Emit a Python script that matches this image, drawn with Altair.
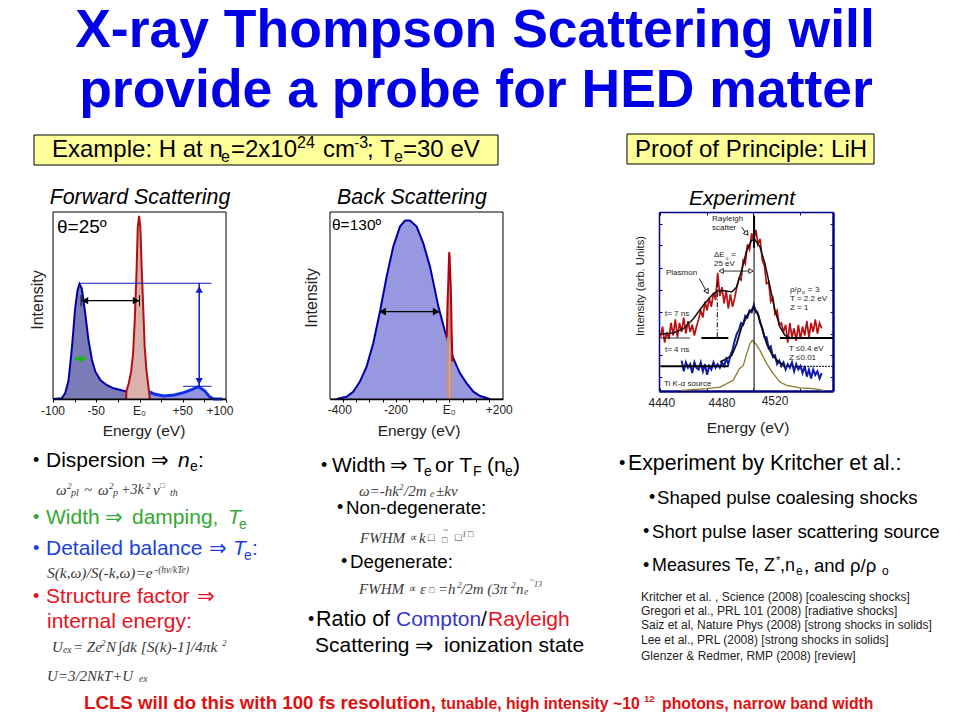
import altair as alt
import pandas as pd

# ---------- data ----------
fwd_blue_left = [(-100,0),(-90,0.4),(-86,3),(-82,10),(-78,28),(-74.4,48.5),(-71.7,58),(-69.4,61.5),(-66.7,59),(-62.8,46),(-59,31.5),(-55,21),(-51,14.6),(-45,10),(-38,7.5),(-30,5.7),(-22,4.8),(-14,3.9)]
fwd_blue_right = [(-14,3.9),(0,3.6),(11,3.9),(17,2.7),(28,1.6),(40,2.1),(51,3.4),(61,5.2),(68,6.6),(75,4.5),(81,1.2),(86,0),(96,0)]
fwd_red = [(-15.5,0),(-15,4.5),(-12.4,8.4),(-9.7,14.6),(-7.4,24.4),(-5.5,42),(-3.5,67),(-2,92),(-0.5,98),(1,92),(2.6,69),(4.2,50),(6,28),(8,15.5),(11,4),(12,0)]
fwd_ticks = [-100,-75,-50,-25,0,25,50,75,100]
fwd_tick_labels = ["-100","-50","E₀","+50","+100"]
fwd_label_at = [-100,-50,0,50,93]

back_blue = [(-422,0),(-385,1.2),(-360,3.9),(-335,9.3),(-310,17.3),(-285,29.8),(-260,46.7),(-235,65.4),(-210,81.5),(-185,92.2),(-166,95.4),(-147.5,95.4),(-122.5,92.2),(-97.5,83.2),(-72.5,70.8),(-41,49.4),(-16,36),(15,21.7),(40,13.7),(65,8.4),(90,3.9),(115,1.6),(152,0)]
back_red = [(-10,0),(-9.5,33),(-7,50),(-4,62),(-2,72),(-0.5,78.5),(1,76),(3,68),(5,62),(7,50),(8,40),(9,34),(10.5,26),(11.5,20),(11.5,0)]
back_ticks = [-400,-350,-300,-250,-200,-150,-100,-50,0,50,100,150]
back_tick_labels = ["-400","-200","E₀","+200"]
back_label_at = [-410,-200,0,187]

exp_red = [(4439,30),(4440.5,36),(4442,27),(4443.5,33),(4445,29),(4446.5,38),(4448,31),(4449.5,40),(4451,30),(4452.5,38),(4454,33),(4455.5,41),(4457,32),(4458.5,39),(4460,33),(4461.5,37),(4463,31),(4464.5,36),(4466,40),(4467.5,45),(4469,41),(4470.5,50),(4472,45),(4473.5,52),(4475,47),(4476.5,55),(4478,51),(4479.5,66),(4481,53),(4482.5,58),(4484,49),(4485.5,56),(4487,46),(4488.5,54),(4490,47),(4491.5,52),(4493,58),(4494.5,63),(4496,62),(4497.5,73),(4499,71),(4500.5,82),(4502,79),(4503.5,88),(4505,84),(4506.5,90),(4508,82),(4509.5,85),(4511,73),(4512.5,70),(4514,60),(4515.5,61),(4517,50),(4518.5,52),(4520,43),(4521.5,45),(4523,37),(4524.5,38),(4526,33),(4527.5,37),(4529,27),(4530.5,38),(4532,30),(4533.5,35),(4535,28),(4536.5,37),(4538,29),(4539.5,36),(4541,31),(4542.5,39),(4544,30),(4545.5,38),(4547,33),(4548.5,40),(4550,32),(4551.5,38),(4553,35)]
exp_blue = [(4454,17),(4455.5,11),(4457,16),(4458.5,13),(4460,15),(4461.5,10),(4463,16),(4464.5,13),(4466,12),(4467.5,16),(4469,11),(4470.5,15),(4472,9),(4473.5,14),(4475,12),(4476.5,16),(4478,13),(4479.5,15),(4481,13),(4482.5,16),(4484,14),(4485.5,18),(4487,15),(4488.5,20),(4490,23),(4491.5,28),(4493,32),(4494.5,34),(4496,38),(4497.5,37),(4499,42),(4500.5,41),(4502,45),(4503.5,44),(4505,48),(4506.5,44),(4508,43),(4509.5,38),(4511,35),(4512.5,30),(4514,30),(4515.5,24),(4517,25),(4518.5,19),(4520,20),(4521.5,15),(4523,17),(4524.5,14),(4526,16),(4527.5,12),(4529,15),(4530.5,13),(4532,16),(4533.5,11),(4535,15),(4536.5,12),(4538,14),(4539.5,10),(4541,14),(4542.5,8),(4544,12),(4545.5,7),(4547,12),(4548.5,9),(4550,11),(4551.5,7),(4553,10)]
exp_red_fit = [(4439.2,31.7),(4448.1,32.4),(4455.2,34.8),(4462.3,40.4),(4469.3,47.9),(4475.2,53.4),(4478.8,55.7),(4483.5,56.2),(4489.4,55.3),(4492.9,58.1),(4496.4,67.4),(4500,78.6),(4503.5,84.2),(4505.9,84.5),(4509.4,80.4),(4512.9,71.1),(4516.5,58.1),(4520,45.1),(4523.5,35.8),(4527.1,31.1),(4530.6,29.8)]
exp_blue_fit = [(4481.1,16.2),(4485.8,18),(4489.4,19.9),(4492.9,26.4),(4496.4,35.8),(4501.1,43.2),(4504.7,46.4),(4507.5,44.1),(4510.6,35.8),(4514.1,26.4),(4517.6,20.9),(4522.4,16.2),(4527.1,14.3)]
exp_source = [(4454,0.4),(4471.7,1.3),(4481.1,2.2),(4490.5,6),(4494.8,12.5),(4497.6,14.3),(4500,20.9),(4502.3,26.4),(4504,28.3),(4506.3,26.4),(4509.4,22.7),(4514.1,15.3),(4518.8,9.7),(4523.5,5),(4528.2,3.2),(4537.7,1.7),(4547.1,1.3),(4554.2,0.4)]
exp_ticks_x = [4439,4471.7,4504.7,4537.7]
exp_ticks_y = [93.5,81.4,68.9,56.2,44.1,32,19.9,7.8]
exp_tick_labels = ["4440","4480","4520"]
exp_label_at = [4440,4482.5,4520]

# ---------- scales: one per panel, each with its own place on the page ----------
def sx(d, a, b): return alt.Scale(domain=d, range=[a-8, b-8], nice=False, zero=False)
def sy(d, a, b): return alt.Scale(domain=d, range=[a-8, b-8], nice=False, zero=False)
S = {
 "f": (sx([-100,100],53,226), sy([0,100],399,212)),
 "b": (sx([-447,201],330,503), sy([0,100],399,212)),
 "e": (sx([4438,4561],659,833), sy([0,100],391,212)),
}
layers = []

def frame(p):
    return pd.DataFrame(p, columns=["x","y"])

def enc(panel, xaxis=None, yaxis=None, x2=False, y2=False):
    kw = dict(x=alt.X("x:Q", scale=S[panel][0], axis=xaxis),
              y=alt.Y("y:Q", scale=S[panel][1], axis=yaxis))
    if x2: kw["x2"] = alt.X2("x2:Q")
    if y2: kw["y2"] = alt.Y2("y2:Q")
    return kw

def area(panel, pts, fill):
    layers.append(alt.Chart(frame(pts)).mark_area(color=fill, opacity=1).encode(**enc(panel)))

def line(panel, pts, color, w, xaxis=None, yaxis=None, **mk):
    layers.append(alt.Chart(frame(pts)).mark_line(color=color, strokeWidth=w, **mk).encode(**enc(panel, xaxis, yaxis)))

def hrule(panel, y, x1, x2, color, w=1, **mk):
    d = pd.DataFrame({"x":[x1],"x2":[x2],"y":[y]})
    layers.append(alt.Chart(d).mark_rule(color=color, strokeWidth=w, **mk).encode(**enc(panel, x2=True)))

def vrule(panel, x, y1, y2, color, w=1, **mk):
    d = pd.DataFrame({"x":[x],"y":[y1],"y2":[y2]})
    layers.append(alt.Chart(d).mark_rule(color=color, strokeWidth=w, **mk).encode(**enc(panel, y2=True)))

def head(panel, x, y, shape, color, size=60, **mk):
    d = pd.DataFrame({"x":[x],"y":[y]})
    layers.append(alt.Chart(d).mark_point(shape=shape, filled=True, color=color, size=size, opacity=1, **mk).encode(**enc(panel)))

def box(a, b, c, d, fill=None, stroke="black", w=1):
    kw = dict(stroke=stroke, strokeWidth=w)
    kw["fill"] = fill if fill else "transparent"
    layers.append(alt.Chart(pd.DataFrame({"k":[0]})).mark_rect(**kw).encode(
        x=alt.value(a-8), x2=alt.value(b-8), y=alt.value(c-8), y2=alt.value(d-8)))

def T(s, x, y, size=21, color="black", font="Liberation Sans", align="left", italic=False, bold=False, angle=None):
    kw = dict(fontSize=size, color=color, font=font, align=align, baseline="middle")
    if italic: kw["fontStyle"] = "italic"
    if bold: kw["fontWeight"] = "bold"
    if angle is not None: kw["angle"] = angle
    layers.append(alt.Chart(pd.DataFrame({"t":[s]})).mark_text(**kw).encode(
        text="t:N", x=alt.value(x-8), y=alt.value(y-8)))

def ticktext(panel, labels, at, ypx, size=12):
    d = pd.DataFrame({"x":at,"t":labels})
    layers.append(alt.Chart(d).mark_text(fontSize=size, font="Liberation Sans", color="#222222", baseline="middle").encode(
        text="t:N", x=alt.X("x:Q", scale=S[panel][0], axis=None), y=alt.value(ypx-8)))

W = 944; H = 704
def bottom_axis(values, ypx, color="black", size=3, orient="bottom", w=1.5):
    return alt.Axis(values=values, labels=False, title=None, grid=False, orient=orient, tickSize=size,
                    tickColor=color, domainColor=color, domainWidth=w, tickWidth=1,
                    offset=(ypx-8-H) if orient=="bottom" else -(ypx-8))

# ---------- heading and boxes ----------
BLUE="#0000e6"
T("X-ray Thompson Scattering will",475,31,53.5,BLUE,align="center",bold=True)
T("provide a probe for HED matter",476,91,53.5,BLUE,align="center",bold=True)
box(34,498,135,165,"#ffff99")
box(627,874,134,164,"#ffff99")
T("Example: H at n",52,150,24)
T("e",221,157,16); T("=2x10",231,150,24); T("24",297,143,16); T("cm",323,150,24); T("-3",354,143,16)
T("; T",367,150,24); T("e",394,157,16); T("=30 eV",403,150,24)
T("Proof of Principle: LiH",751,150,24,align="center")

# ---------- forward panel ----------
T("Forward Scattering",140,198,21.4,align="center",italic=True)
T("Intensity",38,300,16,"#222222",align="center",angle=270)
T("Energy (eV)",144,431,15.5,"#222222",align="center")
T("θ=25º",57,227,19)
area("f",fwd_blue_left,"#7b7bb8")
area("f",fwd_blue_right,"#9494e4")
line("f",fwd_blue_left,"#0000a8",2)
line("f",fwd_blue_right[2:],"#1030e8",3)
area("f",fwd_red,"#dcb0ac")
line("f",fwd_red,"#b01010",2,xaxis=bottom_axis(fwd_ticks,399))
box(53,226,212,399)
hrule("f",61.9,-69.4,83.3,"#0a1ac8")
hrule("f",6.8,50.4,83.3,"#0a1ac8")
vrule("f",69,6.8,61.9,"#0a1ac8",1.5)
head("f",69,58.5,"triangle-up","#0a1ac8",55)
head("f",69,9.5,"triangle-down","#0a1ac8",55)
hrule("f",52.6,-67.5,0,"black",1.2)
vrule("f",-67.5,49.5,55.5,"black",1)
vrule("f",0,49.5,55.5,"black",1)
head("f",-63,52.6,"triangle-left","black",55)
head("f",-4,52.6,"triangle-right","black",55)
head("f",-68,21.5,"M-1,0L0,-0.48L1,0L0,0.48Z","#22b022",190)
ticktext("f",fwd_tick_labels,fwd_label_at,411)

# ---------- back panel ----------
T("Back Scattering",412,198,21.4,align="center",italic=True)
T("Intensity",312,298,16,"#222222",align="center",angle=270)
T("Energy (eV)",419,431,15.5,"#222222",align="center")
T("θ=130º",332,225,15.5)
area("b",back_blue,"#9898e0")
line("b",back_blue,"#0000a8",2,xaxis=bottom_axis(back_ticks,399))
area("b",back_red,"#c9907f")
vrule("b",0.5,0,30,"#d4aca6",1)
line("b",back_red[1:-1],"#b00010",2)
box(330,503,212,399)
hrule("b",46.7,-260,-39,"black",1.2)
head("b",-250,46.7,"triangle-left","black",60)
head("b",-49,46.7,"triangle-right","black",60)
ticktext("b",back_tick_labels,back_label_at,410)

# ---------- experiment panel ----------
NAVY="#000080"
T("Experiment",742,199,21,align="center",italic=True)
T("Intensity (arb. Units)",641,286,11.2,"#222222",align="center",angle=270)
T("Energy (eV)",748,428,15.5,"#222222",align="center")
ext_left = alt.Axis(values=exp_ticks_y, labels=False, title=None, grid=False, orient="right", tickSize=3, tickColor=NAVY, domainColor=NAVY, domainWidth=1.5, offset=(659-8-W))
ext_right = alt.Axis(values=exp_ticks_y, labels=False, title=None, grid=False, orient="left", tickSize=3, tickColor=NAVY, domainColor=NAVY, domainWidth=2.5, offset=-(833-8))
line("e",exp_red,"#b81010",1.7,xaxis=bottom_axis(exp_ticks_x,212,NAVY,3,"bottom",1.5),yaxis=ext_left)
line("e",exp_blue,"#101ab0",2,xaxis=bottom_axis(exp_ticks_x,391,NAVY,3,"top",2.5),yaxis=ext_right)
line("e",exp_source,"#8a7a28",1.3)
hrule("e",29.6,4439,4460,"black",0.8)
hrule("e",29.6,4468,4487,"black",2)
hrule("e",29.6,4523.5,4561,"black",2)
hrule("e",13.8,4439,4487,"black",2)
hrule("e",13.8,4523.5,4561,"black",1,strokeDash=[2,1])
line("e",exp_red_fit,"#111111",1.5)
line("e",exp_blue_fit,"#111111",1.8)
vrule("e",4505.2,0,98,"black",1)
vrule("e",4505.2,80,98,"black",2)
vrule("e",4479.2,30,62,"black",1,strokeDash=[5,2,1,2])
hrule("e",67,4482,4503,"black",0.8)
head("e",4482,67,"triangle-left","white",24,stroke="black",strokeWidth=0.8)
head("e",4503,67,"triangle-right","white",24,stroke="black",strokeWidth=0.8)
line("e",[(4466.5,62.8),(4472.2,54.7)],"black",0.9)
head("e",4472,55.5,"triangle-up","white",26,stroke="black",strokeWidth=0.8,angle=150)
line("e",[(4496.4,91.6),(4500.4,87.3)],"black",0.9)
head("e",4500,88,"triangle-up","white",26,stroke="black",strokeWidth=0.8,angle=140)
ticktext("e",exp_tick_labels[:2],exp_label_at[:2],403)
ticktext("e",exp_tick_labels[2:],exp_label_at[2:],401)
small = dict(size=8, color="#222222")
T("Rayleigh",712,219,**small); T("scatter",712,228,**small)
T("ΔE",714,255,**small); T("c",726,258,size=5,color="#222222"); T("=",731,255,**small); T("25 eV",714,264,**small)
T("Plasmon",666,273,**small)
T("t= 7 ns",665,314,**small); T("t= 4 ns",665,350,**small); T("Ti K-α source",664,384,**small)
T("ρ/ρ",790,290,**small); T("o",802,292,size=5,color="#222222"); T("= 3",808,290,**small)
T("T = 2.2 eV",790,299,**small); T("Z = 1",790,308,**small)
T("T ≤0.4 eV",789,349,**small); T("Z ≤0.01",789,358,**small)

# ---------- left column ----------
SERIF="Liberation Serif"; ARROW="DejaVu Sans"; FG="#3a3a3a"
BUL=18
T("•",33,461,BUL); T("Dispersion",46,461); T("⇒",151,461,21,font=ARROW); T("n",178,461,italic=True); T("e",190,467,14); T(":",198,461)
f=dict(font=SERIF,italic=True,color=FG)
T("ω",56,490,15,**f); T("2",67,486,9,**f); T("pl",71,493,10,**f); T("~",84,490,15,**f)
T("ω",98,490,15,**f); T("2",109,486,9,**f); T("p",113,493,10,**f); T("+3k",121,490,14,**f); T("2",146,486,9,**f)
T("ν",153,490,15,**f); T("□",160,486,8,**f); T("th",170,493,10,**f)
G="#34a834"
T("•",33,518,BUL,G); T("Width",46,518,21,G); T("⇒",105,518,21,G,font=ARROW); T("damping,",132,518,21,G); T("T",228,518,21,G,italic=True); T("e",239,525,14,G)
B="#1c3fe0"
T("•",33,549,BUL,B); T("Detailed balance",46,549,21,B); T("⇒",209,549,21,B,font=ARROW); T("T",233,549,21,B,italic=True); T("e",244,556,14,B); T(":",252,549,21,B)
T("S(k,ω)/S(-k,ω)=e",47,573,15.4,**f); T("-(hν/kTe)",155,570,9.5,**f)
R="#e8101c"
T("•",33,597,BUL,R); T("Structure factor",46,597,21,R); T("⇒",197,597,21,R,font=ARROW)
T("internal energy:",47,622,21,R)
T("U",52,647,15,**f); T("ex",63,650,9.5,**f); T("= Ze",73,647,15,**f); T("2",101,643,9,**f); T("N",106,647,15,**f)
T("∫dk [S(k)-1]/4πk",118,647,15.5,**f); T("2",222,643,9,**f)
T("U=3/2NkT+U",47,676,15,**f); T("ex",139,679,9.5,**f)

# ---------- middle column ----------
T("•",321,466,BUL); T("Width",332,466); T("⇒",390,466,21,font=ARROW); T("T",413,466); T("e",424,472,14); T("or T",435,466)
T("F",473,472,14); T("(n",487,466); T("e",505,472,14); T(")",513,466)
T("ω=-hk",359,491,15,**f); T("2",399,487,9,**f); T("/2m",404,491,15,**f); T("e",430,494,9.5,**f); T("±kv",436,491,15,**f)
T("•",337,508,BUL); T("Non-degenerate:",346,508,18.7)
T("FWHM",360,538,15,**f); T("∝",409,538,11,**f); T("k",419,538,15,**f); T("□",428,538,11,**f); T("~",443,530,9,**f); T("□",442,540,9,**f)
T("□",455,538,11,**f); T("ĩ",463,534,9,**f); T("□",468,534,9,**f)
T("•",341,562,BUL); T("Degenerate:",350,562,18.7)
T("FWHM",359,589,15,**f); T("∝",408,589,11,**f); T("ε",420,589,15,**f); T("□",429,590,9,**f); T("=h",438,589,15,**f); T("2",457,585,9,**f)
T("/2m (3π",461,589,15,**f); T("2",511,585,9,**f); T("n",516,589,15,**f); T("e",524,592,9.5,**f); T("~",530,581,8,**f); T("13",534,585,8,**f)
T("•",308,620,BUL); T("Ratio of",316,620,21.5); T("Compton",396,620,21,"#3535c8"); T("/",481,620); T("Rayleigh",488,620,21,"#e8101c")
T("Scattering",315,646); T("⇒",415,646,22,font=ARROW); T("ionization state",444,646,21)

# ---------- right column ----------
T("•",619,464,BUL); T("Experiment by Kritcher et al.:",628,464,21.3)
T("•",649,498,BUL); T("Shaped pulse coalesing shocks",657,498,18.6)
T("•",643,532,BUL); T("Short pulse laser scattering source",652,532,18.7)
T("•",643,566,BUL); T("Measures Te, Z",652,566,17.9); T("*",776,561,11); T(",",780,566,18); T("n",785,566,18); T("e",796,571,12); T(",",804,566,19); T("and ρ/ρ",814,566,18.5); T("o",882,571,12)
refs = ["Kritcher et al. , Science (2008) [coalescing shocks]",
        "Gregori et al., PRL  101 (2008) [radiative shocks]",
        "Saiz et al, Nature Phys (2008) [strong shocks in solids]",
        "Lee et al., PRL  (2008)  [strong shocks in solids]",
        "Glenzer & Redmer, RMP  (2008) [review]"]
for r, yy in zip(refs, [597,611,625,640,656]):
    T(r,641,yy,12,"#222222")

# ---------- bottom line ----------
RB="#e01010"
T("LCLS will do this with 100 fs resolution,",84,703,18.7,RB,bold=True)
T("tunable, high intensity ~10",441,704,15.8,RB,bold=True)
T("12",644,699,9.5,RB,bold=True)
T("photons, narrow band width",662,704,15.8,RB,bold=True)

chart = alt.layer(*layers).resolve_scale(x="independent", y="independent").properties(
    width=W, height=H, padding=0, background="white",
    autosize=alt.AutoSizeParams(type="none")
).configure_view(stroke=None)
chart.save("out.html", embed_options={"renderer": "svg", "actions": False})
